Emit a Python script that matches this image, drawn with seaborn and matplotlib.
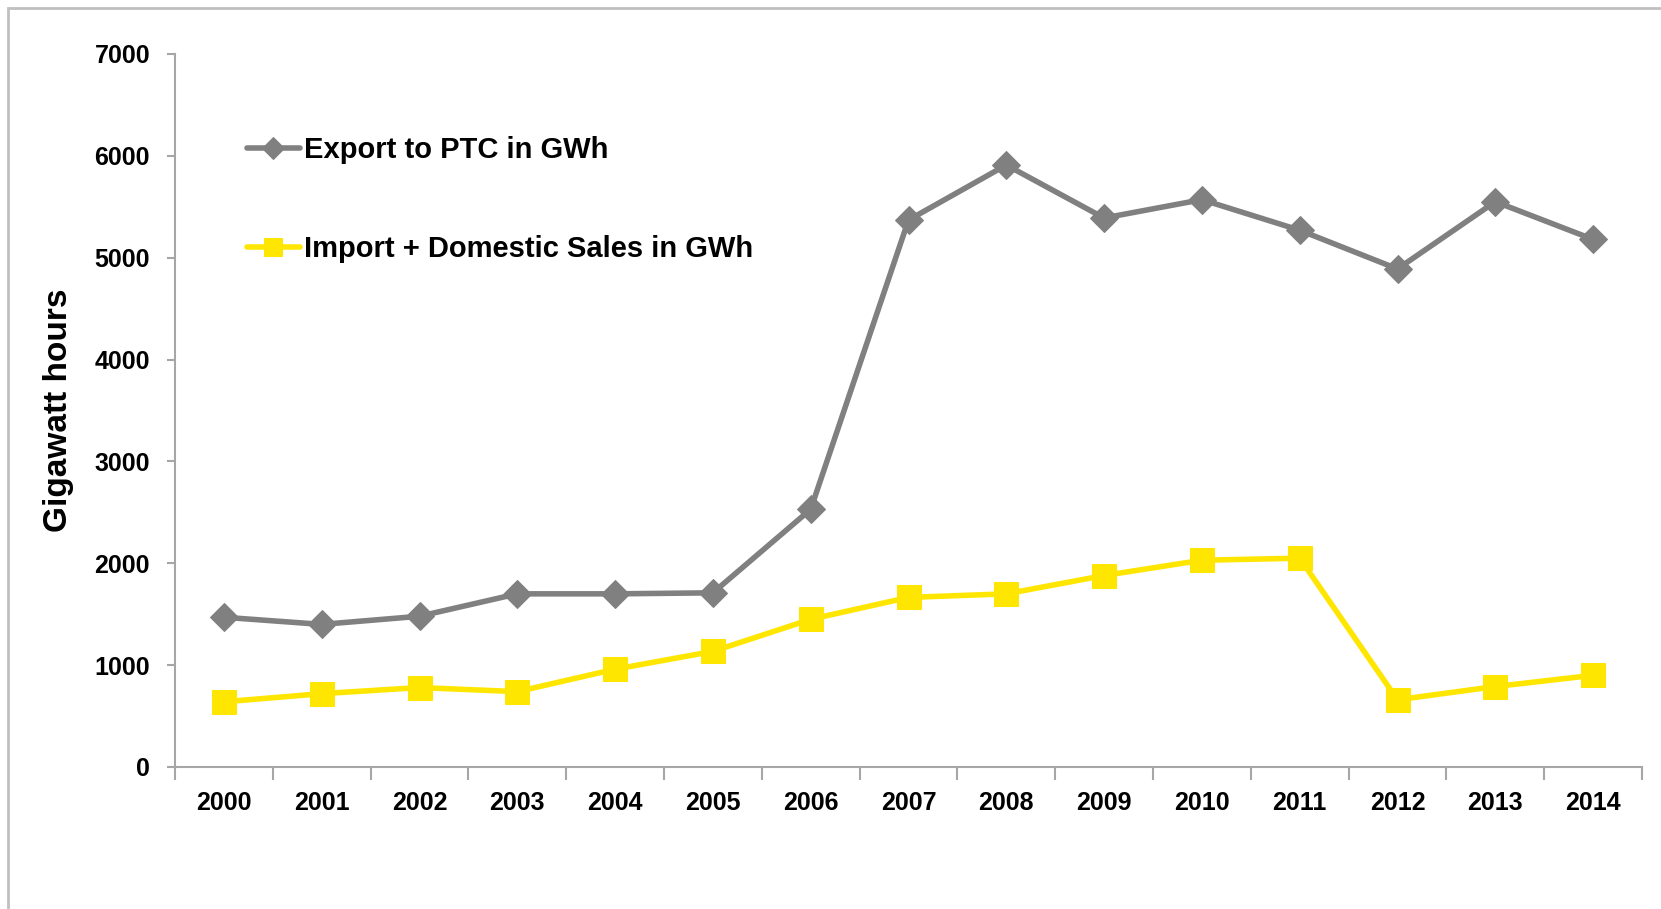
import numpy as np
import pandas as pd
import matplotlib
matplotlib.use("Agg")
import matplotlib.pyplot as plt
from matplotlib.patches import Rectangle
from matplotlib.ticker import FixedLocator, NullFormatter
import seaborn as sns

years = [str(y) for y in range(2000, 2015)]
export_ptc = [1470, 1400, 1480, 1700, 1700, 1710, 2530, 5370, 5910, 5390, 5570, 5270, 4890, 5550, 5180]
import_domestic = [640, 720, 780, 740, 960, 1135, 1450, 1665, 1700, 1880, 2030, 2050, 660, 790, 900]
series_names = ["Export to PTC in GWh", "Import + Domestic Sales in GWh"]
y_ticks = [0, 1000, 2000, 3000, 4000, 5000, 6000, 7000]

sns.set_theme(style="white")
plt.rcParams["font.family"] = ["Liberation Sans", "DejaVu Sans"]
plt.rcParams["text.color"] = "black"
plt.rcParams["axes.labelcolor"] = "black"

axis_grey = "#a6a6a6"
fig = plt.figure(figsize=(16.61, 9.09), dpi=100)
ax = fig.add_axes([175 / 1661, 1 - 767 / 909, 1467 / 1661, 713 / 909])

pos = np.arange(len(years))
sns.lineplot(x=pos, y=export_ptc, ax=ax, color="#808080", linewidth=4,
             marker="D", markersize=14, markeredgecolor="#808080",
             label=series_names[0])
sns.lineplot(x=pos, y=import_domestic, ax=ax, color="#ffe600", linewidth=4,
             marker="s", markersize=17, markeredgecolor="#ffe600",
             label=series_names[1])

ax.set_xlim(-0.5, len(years) - 0.5)
ax.set_ylim(0, 7000)
ax.set_yticks(y_ticks)
ax.set_yticklabels([str(v) for v in y_ticks], fontsize=18, fontweight="bold")
ax.tick_params(axis="y", length=6, width=1.5, color=axis_grey, labelcolor="black", pad=12, left=True)

# category boundaries get tick marks, labels sit between them
ax.xaxis.set_major_locator(FixedLocator(np.arange(-0.5, len(years), 1.0)))
ax.xaxis.set_major_formatter(NullFormatter())
ax.xaxis.set_minor_locator(FixedLocator(pos))
ax.set_xticklabels(years, minor=True, fontsize=18, fontweight="bold")
ax.tick_params(axis="x", which="major", length=9, width=1.5, color=axis_grey, bottom=True)
ax.tick_params(axis="x", which="minor", length=0, pad=17, labelcolor="black", bottom=True)

for side in ["top", "right"]:
    ax.spines[side].set_visible(False)
for side in ["left", "bottom"]:
    ax.spines[side].set_color(axis_grey)
    ax.spines[side].set_linewidth(1.5)

ax.set_xlabel("")
ax.set_ylabel("Gigawatt hours", fontsize=24, fontweight="bold")
ax.yaxis.set_label_coords(-0.069, 0.5)

leg = ax.legend(loc="upper left", bbox_to_anchor=((247 - 175) / 1467, 1 - (136 - 54) / 713),
                frameon=False, fontsize=21, handlelength=1.8, handletextpad=0.14,
                labelspacing=2.45, borderpad=0, borderaxespad=0)
for t in leg.get_texts():
    t.set_fontweight("bold")
    t.set_color("black")
for h, ms in zip(leg.legend_handles, [11, 13]):
    h.set_markersize(ms)

fig.add_artist(Rectangle((8 / 1661, -0.1), 1.2, 1 - 8 / 909 + 0.1, transform=fig.transFigure,
                         fill=False, edgecolor="#c0c0c0", linewidth=2))

fig.savefig("out.png", dpi=100)
